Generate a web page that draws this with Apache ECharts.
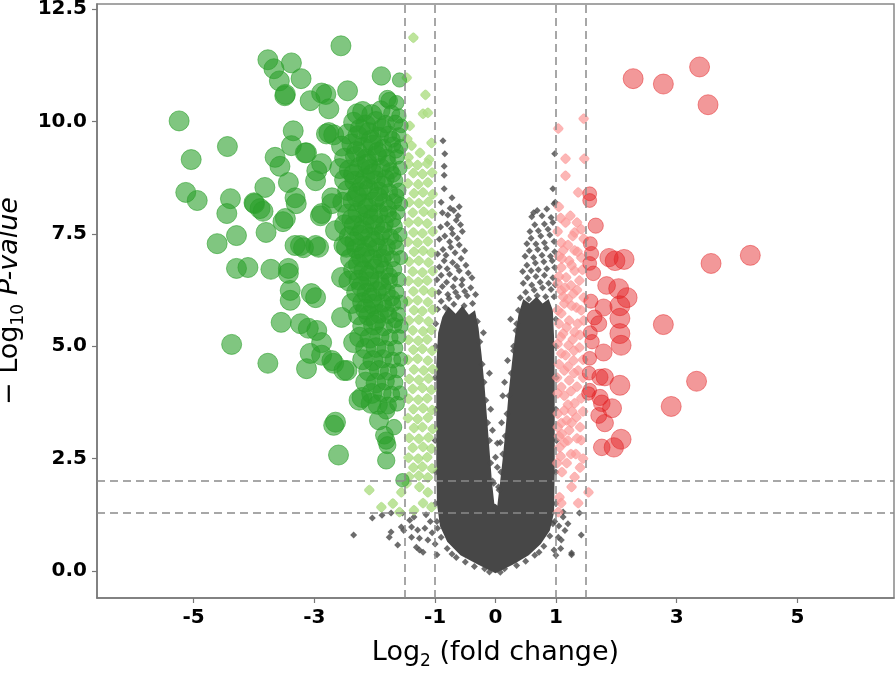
<!DOCTYPE html>
<html>
<head>
<meta charset="utf-8">
<script src="https://cdn.jsdelivr.net/npm/echarts@6.0.0/dist/echarts.min.js"></script>
<style>
html,body{margin:0;padding:0;background:#fff;}
#chart{width:896px;height:676px;}
</style>
</head>
<body>
<div id="chart"></div>
<script>
// ---- data (log2 fold change, -log10 p-value) ----
const xTicks = [-5, -3, -1, 0, 1, 3, 5];
const yTicks = [0, 2.5, 5, 7.5, 10, 12.5];
const fcCuts = [-1.5, -1, 1, 1.5];
const pCuts = [2, 1.3];

// outline of the saturated core of the non-significant gene cloud
const grayCore = [
  [0,-0.05],[0.3,0.15],[0.55,0.35],[0.75,0.6],[0.9,0.9],[0.97,1.3],[0.98,2.2],[0.98,3.2],[0.98,4.2],[0.97,5.2],[0.95,5.8],[0.88,6.05],[0.78,5.95],
  [0.68,6.1],[0.56,5.95],[0.46,6.05],[0.38,5.7],[0.32,5.2],[0.27,4.6],[0.22,4.0],[0.17,3.2],[0.12,2.5],[0.07,1.9],[0.03,1.45],[-0.02,1.5],[-0.06,2.0],
  [-0.1,2.7],[-0.14,3.4],[-0.18,4.1],[-0.23,4.8],[-0.28,5.4],[-0.34,5.8],[-0.44,5.7],[-0.55,5.9],[-0.66,5.72],[-0.78,5.88],[-0.88,5.65],[-0.95,5.3],
  [-0.98,4.6],[-0.98,3.6],[-0.98,2.4],[-0.97,1.5],[-0.92,1.0],[-0.8,0.65],[-0.58,0.35],[-0.3,0.15]
];

const grayPts = [
  // left arm, upper speckled part
  [-0.96,5.82],[-0.9,6.0],[-0.83,5.86],[-0.77,6.06],[-0.69,5.93],[-0.62,6.1],[-0.52,5.9],[-0.47,6.12],[-0.38,5.95],[-0.33,6.15],
  [-0.94,6.2],[-0.88,6.33],[-0.79,6.15],[-0.7,6.32],[-0.66,6.2],[-0.56,6.36],[-0.51,6.22],[-0.41,6.3],
  [-0.97,6.48],[-0.9,6.58],[-0.81,6.42],[-0.76,6.6],[-0.67,6.5],[-0.6,6.68],[-0.55,6.48],[-0.45,6.63],[-0.39,6.52],
  [-0.93,6.76],[-0.85,6.9],[-0.8,6.72],[-0.71,6.86],[-0.64,6.78],[-0.57,6.95],[-0.49,6.8],
  [-0.96,7.05],[-0.87,7.15],[-0.82,7.02],[-0.74,7.2],[-0.67,7.08],[-0.6,7.25],[-0.51,7.12],
  [-0.93,7.38],[-0.84,7.45],[-0.76,7.32],[-0.71,7.5],[-0.63,7.4],[-0.55,7.55],
  [-0.91,7.65],[-0.8,7.72],[-0.73,7.62],[-0.65,7.8],[-0.58,7.7],[-0.79,7.92],[-0.69,8.02],[-0.62,7.9],[-0.88,7.97],[-0.6,8.1],[-0.75,8.07],
  [-0.87,9.57],[-0.84,9.28],[-0.85,9.0],[-0.85,8.8],[-0.85,8.5],[-0.72,8.3],[-0.9,8.2],
  // right arm, upper speckled part
  [0.41,6.08],[0.5,6.2],[0.55,6.05],[0.64,6.25],[0.69,6.12],[0.78,6.3],[0.83,6.1],[0.92,6.26],[0.97,6.1],
  [0.46,6.4],[0.53,6.52],[0.6,6.36],[0.67,6.55],[0.74,6.42],[0.81,6.58],[0.88,6.4],[0.95,6.52],[0.99,6.36],
  [0.45,6.66],[0.52,6.8],[0.59,6.68],[0.66,6.85],[0.71,6.7],[0.8,6.88],[0.85,6.72],[0.94,6.9],[0.98,6.75],
  [0.49,7.0],[0.56,7.12],[0.63,6.97],[0.7,7.15],[0.77,7.02],[0.84,7.18],[0.91,7.0],[0.98,7.1],
  [0.52,7.28],[0.59,7.4],[0.67,7.27],[0.75,7.45],[0.81,7.3],[0.9,7.47],[0.97,7.33],
  [0.57,7.55],[0.65,7.7],[0.71,7.57],[0.81,7.72],[0.87,7.6],[0.95,7.75],
  [0.6,7.88],[0.69,8.02],[0.77,7.9],[0.85,8.05],[0.92,7.86],[0.97,8.17],[0.63,7.97],
  [0.98,9.28],[0.99,8.2],[0.95,8.5],[0.38,5.8],[0.35,5.5],[0.3,5.0],
  // inner edges of the two arms
  [-0.3,5.55],[-0.26,5.1],[-0.22,4.6],[-0.19,4.2],[-0.16,3.8],[-0.13,3.3],[-0.1,2.9],[-0.08,2.4],[-0.05,2.0],
  [0.34,5.35],[0.3,4.9],[0.26,4.4],[0.22,3.9],[0.19,3.5],[0.16,3.0],[0.12,2.6],[0.09,2.2],[0.06,1.8],
  // gap between the arms
  [-0.05,3.13],[0.08,2.86],[0.0,2.53],[0.03,2.31],[0.05,1.87],[0.0,1.42],[0.03,2.84],[-0.03,1.95],[-0.08,3.6],[0.12,3.9],[-0.1,4.4],
  [0.15,4.2],[-0.2,5.3],[0.1,3.3],[0.2,4.68],[0.25,5.6],
  // outer edges
  [-0.99,5.5],[-0.99,5.0],[-1.0,4.3],[-0.99,3.6],[-1.0,2.9],[-0.99,2.2],[-0.99,1.5],[-0.97,1.1],
  [1.0,5.6],[1.0,5.0],[1.01,4.3],[1.0,3.6],[1.01,2.9],[1.0,2.2],[1.0,1.5],[0.98,1.1],
  // below the p cut-offs and outside the fold-change cut-offs
  [-2.35,0.8],[-2.04,1.18],[-1.76,0.75],[-1.73,0.87],[-1.62,0.58],[-1.56,0.98],[-1.52,0.9],[-1.42,1.13],[-1.39,0.75],[-1.29,0.91],[-1.31,0.53],
  [-1.26,0.47],[-1.12,0.69],[-1.17,0.95],[-0.97,0.36],[-1.73,1.29],[-1.54,1.29],[-1.39,0.98],[-1.26,0.73],[-1.2,0.42],[-1.05,0.85],[-1.08,1.1],
  [-1.0,0.6],[-1.15,1.25],[-1.35,1.2],[-1.88,1.24],
  [1.04,0.75],[1.09,0.69],[1.26,0.36],[1.42,0.8],[1.39,1.29],[1.12,1.31],[0.97,0.47],[1.26,0.4],[1.12,1.2],[1.05,1.0],[1.15,0.9],[1.0,0.35],[1.2,1.05],[1.08,0.5],
  // lower boundary of the cloud
  [-0.9,0.75],[-0.8,0.5],[-0.65,0.3],[-0.5,0.2],[-0.35,0.1],[-0.18,0.05],[0.15,0.05],[0.35,0.12],[0.5,0.22],[0.65,0.35],[0.8,0.55],[0.9,0.78],
  [-0.72,0.38],[0.72,0.42],[-0.1,-0.02],[0.08,-0.03],[0.95,1.05],[-0.96,0.95]
];

const lightGreen = [
  [-1.36,11.86],[-1.47,10.97],[-1.16,10.59],[-1.2,10.17],[-1.12,10.19],[-1.06,9.52],[-1.46,9.61],[-1.39,9.46],[-1.42,9.9],[-1.25,9.3],[-1.1,9.15],[-1.44,9.2],
  [-1.44,9.05],[-1.29,9.03],[-1.13,9.06],
  [-1.36,8.85],[-1.21,8.83],[-1.05,8.86],
  [-1.45,8.62],[-1.28,8.6],[-1.12,8.64],
  [-1.35,8.4],[-1.2,8.42],[-1.04,8.38],
  [-1.43,8.2],[-1.27,8.18],[-1.11,8.21],
  [-1.37,7.97],[-1.19,7.99],[-1.05,7.95],
  [-1.44,7.75],[-1.28,7.77],[-1.13,7.73],
  [-1.36,7.53],[-1.21,7.51],[-1.04,7.55],
  [-1.45,7.32],[-1.29,7.3],[-1.12,7.33],
  [-1.35,7.1],[-1.2,7.12],[-1.06,7.08],
  [-1.43,6.88],[-1.27,6.9],[-1.11,6.86],
  [-1.37,6.66],[-1.21,6.64],[-1.04,6.67],
  [-1.44,6.45],[-1.28,6.43],[-1.13,6.46],
  [-1.36,6.22],[-1.19,6.24],[-1.05,6.2],
  [-1.45,6.0],[-1.29,6.02],[-1.12,5.98],
  [-1.35,5.8],[-1.21,5.78],[-1.04,5.81],
  [-1.43,5.57],[-1.27,5.59],[-1.11,5.55],
  [-1.37,5.35],[-1.2,5.33],[-1.06,5.36],
  [-1.44,5.14],[-1.28,5.12],[-1.13,5.15],
  [-1.36,4.92],[-1.21,4.94],[-1.05,4.9],
  [-1.45,4.7],[-1.29,4.72],[-1.12,4.68],
  [-1.35,4.48],[-1.19,4.46],[-1.04,4.49],
  [-1.43,4.27],[-1.27,4.25],[-1.11,4.28],
  [-1.37,4.05],[-1.21,4.07],[-1.06,4.03],
  [-1.44,3.83],[-1.28,3.81],[-1.13,3.84],
  [-1.36,3.6],[-1.2,3.62],[-1.05,3.58],
  [-1.45,3.4],[-1.29,3.38],[-1.12,3.41],
  [-1.35,3.18],[-1.21,3.2],[-1.04,3.16],
  [-1.43,2.96],[-1.27,2.94],[-1.11,2.97],
  [-1.37,2.74],[-1.2,2.76],[-1.06,2.72],
  [-1.44,2.52],[-1.28,2.5],[-1.13,2.53],
  [-1.36,2.3],[-1.21,2.32],[-1.05,2.28],
  [-1.43,2.1],[-1.27,2.12],[-1.12,2.08],
  [-2.09,1.8],[-1.89,1.42],[-1.59,1.31],[-1.56,1.75],[-1.2,1.51],[-1.06,1.42],[-1.26,1.87],[-1.12,1.75],[-1.47,1.95],[-1.35,1.35],[-1.7,1.5]
];

const darkGreen = [
  [-5.24,10.01],[-4.44,9.44],[-5.04,9.15],[-5.13,8.42],[-4.94,8.24],[-4.39,8.28],[-4.45,7.95],[-4.29,7.46],[-4.61,7.28],[-4.0,8.19],[-3.9,8.06],
  [-3.82,8.53],[-3.8,7.53],[-3.52,7.77],[-3.77,11.37],[-3.67,11.17],[-3.58,10.9],[-3.49,10.57],[-3.38,11.3],[-3.22,10.95],[-3.07,10.46],[-2.88,10.63],
  [-2.76,10.28],[-2.45,10.68],[-2.56,11.68],[-1.89,11.01],[-1.59,10.92],[-1.79,10.5],[-1.64,10.41],[-3.35,9.79],[-3.38,9.46],[-3.65,9.2],[-3.15,9.3],
  [-3.57,9.0],[-3.43,8.64],[-3.99,8.17],[-3.85,8.0],[-3.32,8.3],[-3.3,8.17],[-2.9,7.9],[-3.23,7.24],[-2.93,7.2],[-2.76,9.75],[-2.68,9.7],[-2.88,9.06],
  [-2.96,8.9],[-2.98,8.68],[-2.51,7.24],[-2.65,7.57],[-2.71,8.17],[-2.8,9.72],[-3.48,10.6],[-2.81,10.6],[-2.29,10.17],[-1.76,10.46],[-3.13,9.3],
  [-3.48,7.84],[-2.88,7.95],[-2.71,8.3],[-3.18,7.19],[-3.32,7.24],[-2.98,7.24],[-2.55,6.53],[-4.29,6.73],[-4.1,6.75],[-3.72,6.71],[-3.43,6.73],
  [-4.37,5.04],[-3.77,4.62],[-3.4,6.24],[-3.05,6.17],[-3.23,5.5],[-2.96,5.35],[-2.68,4.62],[-2.51,4.46],[-2.88,4.8],[-2.65,3.31],[-2.6,2.58],
  [-3.43,6.62],[-2.98,6.08],[-3.4,6.02],[-3.55,5.53],[-3.1,5.4],[-2.88,5.08],[-3.07,4.84],[-3.13,4.5],[-2.71,4.68],[-2.46,4.46],[-2.55,5.64],
  [-2.35,5.08],[-2.21,3.86],[-2.06,3.73],[-1.81,3.57],[-2.68,3.24],[-1.81,2.46],[-1.81,2.9],[-1.68,3.2],[-1.54,2.02],[-1.84,3.02],[-1.79,2.8],
  [-1.93,3.35],[-2.26,3.8],
  [-2.2,10.22],[-2.05,10.15],[-1.9,10.25],[-1.72,10.18],[-1.6,10.12],
  [-2.35,9.98],[-2.15,9.92],[-1.98,10.0],[-1.82,9.94],[-1.66,9.97],[-1.56,9.9],
  [-2.45,9.72],[-2.28,9.68],[-2.1,9.75],[-1.93,9.66],[-1.77,9.71],[-1.6,9.7],
  [-2.55,9.45],[-2.38,9.5],[-2.2,9.42],[-2.03,9.47],[-1.86,9.4],[-1.7,9.48],[-1.57,9.44],
  [-2.5,9.18],[-2.32,9.22],[-2.14,9.16],[-1.97,9.24],[-1.8,9.19],[-1.63,9.21],
  [-2.58,8.95],[-2.42,8.92],[-2.25,8.98],[-2.07,8.93],[-1.9,8.97],[-1.74,8.9],[-1.58,8.96],
  [-2.5,8.7],[-2.33,8.67],[-2.16,8.72],[-1.99,8.68],[-1.82,8.73],[-1.66,8.69],
  [-2.45,8.46],[-2.27,8.42],[-2.1,8.48],[-1.93,8.44],[-1.76,8.43],[-1.6,8.47],
  [-2.53,8.2],[-2.36,8.23],[-2.19,8.17],[-2.02,8.21],[-1.85,8.19],[-1.68,8.22],[-1.57,8.16],
  [-2.45,7.94],[-2.28,7.97],[-2.11,7.92],[-1.94,7.96],[-1.78,7.93],[-1.62,7.98],
  [-2.5,7.7],[-2.34,7.68],[-2.17,7.73],[-2.0,7.69],[-1.84,7.72],[-1.67,7.67],
  [-2.42,7.44],[-2.25,7.47],[-2.08,7.42],[-1.91,7.46],[-1.74,7.43],[-1.58,7.48],
  [-2.47,7.2],[-2.3,7.17],[-2.13,7.22],[-1.96,7.18],[-1.8,7.21],[-1.64,7.19],
  [-2.4,6.95],[-2.22,6.98],[-2.05,6.93],[-1.88,6.96],[-1.71,6.94],[-1.57,6.97],
  [-2.35,6.7],[-2.18,6.68],[-2.01,6.72],[-1.84,6.69],[-1.68,6.71],
  [-2.43,6.45],[-2.26,6.47],[-2.09,6.43],[-1.92,6.46],[-1.76,6.44],[-1.6,6.48],
  [-2.3,6.2],[-2.13,6.18],[-1.97,6.22],[-1.8,6.19],[-1.64,6.21],
  [-2.38,5.95],[-2.2,5.97],[-2.03,5.93],[-1.87,5.96],[-1.7,5.94],[-1.57,5.98],
  [-2.27,5.7],[-2.1,5.68],[-1.93,5.72],[-1.77,5.69],[-1.61,5.71],
  [-2.2,5.45],[-2.02,5.47],[-1.85,5.43],[-1.68,5.46],[-1.56,5.44],
  [-2.25,5.2],[-2.08,5.18],[-1.92,5.22],[-1.75,5.19],[-1.6,5.21],
  [-2.15,4.95],[-1.98,4.97],[-1.82,4.93],[-1.66,4.96],
  [-2.2,4.7],[-2.03,4.68],[-1.87,4.72],[-1.7,4.69],[-1.57,4.71],
  [-2.1,4.45],[-1.93,4.47],[-1.77,4.43],[-1.62,4.46],
  [-2.15,4.2],[-1.98,4.18],[-1.82,4.22],[-1.66,4.19],
  [-2.05,3.95],[-1.88,3.97],[-1.72,3.93],[-1.58,3.96],
  [-1.95,3.7],[-1.78,3.68],[-1.63,3.72],
  // second, offset layer in the densest part of the cluster
  [-2.24,9.83],[-2.06,9.58],[-1.88,9.85],[-1.71,9.6],[-2.3,9.33],[-2.12,9.05],[-1.95,9.32],[-1.78,9.06],[-1.65,9.35],
  [-2.35,8.82],[-2.2,8.56],[-2.03,8.83],[-1.86,8.58],[-1.7,8.82],[-2.3,8.33],[-2.12,8.07],[-1.95,8.32],[-1.78,8.06],[-1.64,8.34],
  [-2.38,7.82],[-2.2,7.57],[-2.03,7.83],[-1.86,7.56],[-1.7,7.82],[-2.33,7.32],[-2.17,7.07],[-2.0,7.33],[-1.83,7.06],[-1.67,7.33],
  [-2.27,6.82],[-2.1,6.57],[-1.93,6.83],[-1.76,6.56],[-2.22,6.33],[-2.05,6.07],[-1.88,6.32],[-1.72,6.07],[-2.15,5.82],[-1.98,5.57],[-1.82,5.83],[-1.66,5.58]
];

const pink = [
  [1.04,9.84],[1.46,10.06],[1.16,9.17],[1.47,9.17],[1.16,8.79],[1.37,8.42],[1.16,7.75],[1.31,7.53],[1.09,7.3],[1.46,7.39],[1.31,7.13],[1.12,7.13],
  [1.22,6.9],[1.42,6.97],[1.09,6.75],[1.31,6.68],[1.17,6.53],[1.39,6.46],[1.09,6.24],[1.29,6.17],[1.46,6.08],[1.14,5.95],[1.34,5.86],[1.09,5.73],
  [1.22,5.57],[1.46,5.57],[1.31,5.31],[1.12,5.28],[1.21,5.02],[1.39,4.97],[1.09,4.84],[1.29,4.68],[1.14,4.46],[1.37,4.46],[1.22,4.24],[1.09,4.09],
  [1.42,3.84],[1.31,3.73],[1.14,3.57],[1.34,3.42],[1.09,3.29],[1.22,3.13],[1.14,2.86],[1.42,2.91],[1.06,2.75],[1.31,2.09],[1.26,1.87],[1.54,1.75],
  [1.37,1.51],[1.06,1.64],[1.09,1.51],[1.04,1.31],[1.18,2.4],[1.4,2.3],[1.1,2.2],[1.05,7.0],[1.2,7.25],[1.35,7.75],[1.03,6.4],[1.25,6.35],[1.05,5.5],
  [1.28,5.15],[1.05,4.6],[1.25,4.0],[1.4,3.2],[1.2,3.7],[1.03,3.95],[1.33,2.6],[1.02,2.4],[1.45,4.3],[1.2,6.05],[1.4,5.25],[1.1,3.05],[1.25,2.6],
  [1.05,8.1],[1.24,7.9],[1.03,7.55],[1.36,7.1],[1.15,6.3],[1.03,5.05],[1.3,4.4],[1.16,4.8],[1.03,3.5],[1.18,3.35],[1.05,3.0],[1.27,3.55],
  [1.08,7.85],[1.28,7.45],[1.42,7.6],[1.1,6.95],[1.26,6.8],[1.44,6.7],[1.05,6.55],[1.35,6.25],[1.12,6.1],[1.26,5.9],[1.42,5.8],[1.03,5.8],
  [1.18,5.42],[1.36,5.5],[1.08,5.2],[1.3,4.9],[1.45,4.7],[1.2,4.55],[1.02,4.3],[1.35,4.1],[1.14,3.9],[1.45,3.55],[1.26,3.3],[1.03,3.2],
  [1.35,2.95],[1.2,2.9],[1.45,2.5],[1.08,2.55]
];

const red = [
  [1.56,8.39],[1.56,8.24],[1.66,7.68],[1.57,7.28],[1.59,7.06],[1.56,6.84],[1.62,6.62],[1.88,6.97],[1.98,6.9],[2.13,6.93],[1.84,6.35],[2.04,6.28],
  [2.18,6.08],[1.79,5.86],[2.06,5.9],[2.06,5.62],[1.64,5.64],[1.71,5.5],[2.06,5.28],[2.08,5.02],[1.79,4.86],[1.56,4.73],[1.73,4.31],[1.81,4.31],
  [2.06,4.13],[1.56,4.02],[1.73,3.86],[1.93,3.62],[1.71,3.46],[1.81,3.29],[2.08,2.93],[1.76,2.75],[1.96,2.75],[3.57,6.84],[4.22,7.02],[2.78,5.48],
  [3.33,4.22],[2.91,3.66],[2.28,10.95],[2.78,10.83],[3.38,11.21],[3.52,10.37],[1.54,3.95],[1.76,3.73],[1.57,5.3],[1.58,6.0],[1.6,5.1],[1.55,4.4]
];

// ---- chart ----
const chart = echarts.init(document.getElementById('chart'), null, {renderer: 'canvas'});
const FONT = 'DejaVu Sans';
function bigSize(v) {
  const a = Math.abs(v[0]);
  return Math.max(12, Math.min(20, 13 + 14 * (a - 1.5)));
}
const lineStyleDash = {color: '#8a8a8a', type: [8, 5], width: 1.5};

const option = {
  animation: false,
  backgroundColor: '#fff',
  grid: {left: 97, top: 4, right: 2, bottom: 78, show: true, borderColor: '#888', borderWidth: 1.5,
    containLabel: false, outerBoundsMode: 'none'},
  xAxis: {
    type: 'value', min: -6.6, max: 6.6,
    splitLine: {show: false},
    axisLine: {onZero: false, lineStyle: {color: '#777', width: 1.5}},
    axisTick: {customValues: xTicks, length: 5, lineStyle: {color: '#777', width: 1.2}},
    axisLabel: {customValues: xTicks, fontSize: 20, fontWeight: 'bold', color: '#000', fontFamily: FONT, margin: 10},
    name: '{a|Log}{s|2}{a| (fold change)}',
    nameLocation: 'middle', nameGap: 38,
    nameTextStyle: {
      rich: {
        a: {fontSize: 27, fontFamily: FONT, color: '#000', lineHeight: 34},
        s: {fontSize: 17, fontFamily: FONT, color: '#000', lineHeight: 17, verticalAlign: 'bottom'}
      }
    }
  },
  yAxis: {
    type: 'value', min: -0.6, max: 12.61,
    splitLine: {show: false},
    axisLine: {onZero: false, lineStyle: {color: '#777', width: 1.5}},
    axisTick: {customValues: yTicks, length: 5, lineStyle: {color: '#777', width: 1.2}},
    axisLabel: {customValues: yTicks, fontSize: 20, fontWeight: 'bold', color: '#000', fontFamily: FONT, margin: 10,
      formatter: v => v.toFixed(1)},
    name: '{a|\u2212 Log}{s|10}{i| P-value}',
    nameLocation: 'middle', nameGap: 54, nameRotate: 90,
    nameTextStyle: {
      rich: {
        a: {fontSize: 27, fontFamily: FONT, color: '#000', lineHeight: 34},
        s: {fontSize: 17, fontFamily: FONT, color: '#000', lineHeight: 17, verticalAlign: 'bottom'},
        i: {fontSize: 27, fontFamily: FONT, fontStyle: 'italic', color: '#000', lineHeight: 34}
      }
    }
  },
  series: [
    {
      type: 'custom', name: 'core', z: 1, silent: true,
      data: grayCore, encode: {x: 0, y: 1},
      renderItem: function (params, api) {
        if (params.dataIndex !== 0) return null;
        const pts = grayCore.map(p => api.coord(p));
        return {type: 'polygon', shape: {points: pts}, style: {fill: '#474747'}};
      }
    },
    {type: 'scatter', name: 'ns', z: 2, data: grayPts, symbol: 'diamond', symbolSize: 7,
      itemStyle: {color: '#474747'}},
    {type: 'scatter', name: 'lightGreen', z: 3, data: lightGreen, symbol: 'roundRect', symbolSize: 8, symbolRotate: 45,
      itemStyle: {color: '#b2df8a', opacity: 0.85, borderColor: '#9fd472', borderWidth: 0.5}},
    {type: 'scatter', name: 'pink', z: 3, data: pink, symbol: 'roundRect', symbolSize: 8, symbolRotate: 45,
      itemStyle: {color: '#fb9a99', opacity: 0.72, borderColor: '#f88', borderWidth: 0.5}},
    {type: 'scatter', name: 'darkGreen', z: 4, data: darkGreen, symbol: 'circle', symbolSize: bigSize,
      itemStyle: {color: '#2ca02c', opacity: 0.6, borderColor: '#2ca02c', borderWidth: 1}},
    {type: 'scatter', name: 'red', z: 4, data: red, symbol: 'circle', symbolSize: bigSize,
      itemStyle: {color: '#e31a1c', opacity: 0.45, borderColor: '#e31a1c', borderWidth: 1}},
    {type: 'scatter', name: 'cuts', z: 10, data: [],
      markLine: {
        silent: true, symbol: 'none', label: {show: false}, lineStyle: lineStyleDash,
        data: fcCuts.map(v => ({xAxis: v})).concat(pCuts.map(v => ({yAxis: v})))
      }}
  ]
};
chart.setOption(option);
</script>
</body>
</html>
